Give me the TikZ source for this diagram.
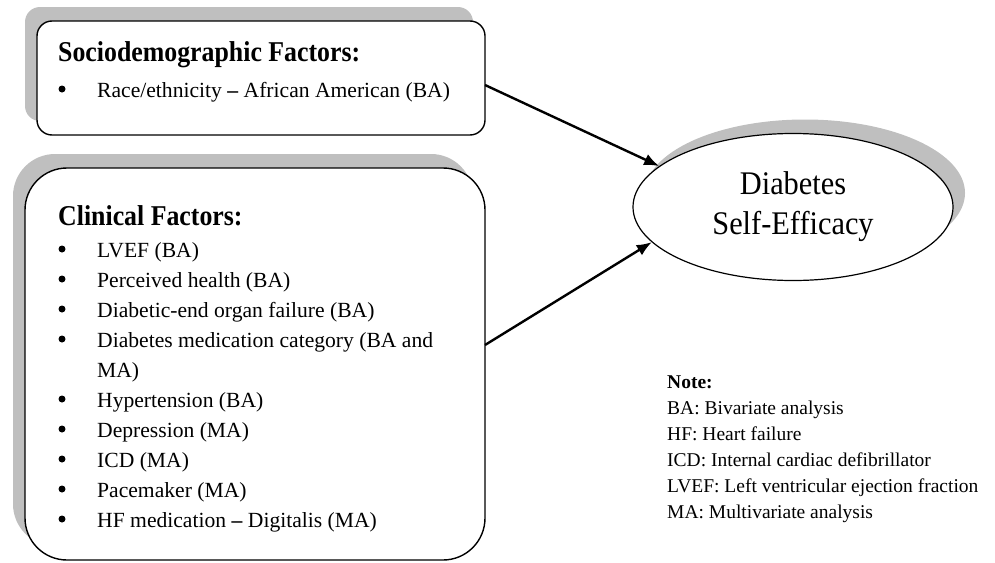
\documentclass[tikz,border=0pt]{standalone}
\usepackage{fontspec}
\setmainfont{Liberation Serif}
\newfontfamily\tallfont[FakeStretch=0.9]{Liberation Serif}
\newfontfamily\ovalfont[FakeStretch=0.92]{Liberation Serif}
\usetikzlibrary{arrows.meta,shadows,shapes.geometric}

\tikzset{
  factorbox/.style={draw, line width=1.4pt, fill=white, rounded corners=#1,
    inner sep=0pt, outer sep=0pt, anchor=north west,
    general shadow={fill=black!25, shadow xshift=-12pt, shadow yshift=14pt}},
  outcome/.style={draw, ellipse, line width=1.2pt, fill=white, inner sep=0pt,
    minimum width=320pt, minimum height=147pt, align=center,
    font=\ovalfont\fontsize{33}{40}\selectfont,
    general shadow={fill=black!25, shadow xshift=12pt, shadow yshift=14pt}},
  heading/.style={anchor=base west, inner sep=0pt, font=\tallfont\fontsize{28.7}{32}\selectfont\bfseries},
  item/.style={anchor=base west, inner sep=0pt, font=\fontsize{21.6}{30}\selectfont},
  dot/.style={circle, fill=black, inner sep=0pt, minimum size=7pt},
  arrow/.style={line width=2.4pt, -{Latex[length=15pt,width=12pt]}}
}

\begin{document}
\begin{tikzpicture}[x=1pt,y=-1pt]
  \useasboundingbox (0,0) rectangle (995,562);

  \node[factorbox=15pt, minimum width=448pt, minimum height=114pt] (socio) at (37,21) {};
  \node[factorbox=42pt, minimum width=460pt, minimum height=392pt] (clin) at (25,168) {};
  \node[outcome] (dse) at (793,207) {Diabetes\\Self-Efficacy};

  \node[heading] (socio-title) at (58,61) {Sociodemographic Factors:};
  \node[dot] (socio-dot) at (62,89) {};
  \node[item] (socio-race) at (97,97) {Race/ethnicity \textbf{--} African American (BA)};

  \node[heading] (clin-title) at (58,225) {Clinical Factors:};
  \foreach \y/\txt in {257/LVEF (BA), 287/Perceived health (BA),
      317/Diabetic-end organ failure (BA), 347/Diabetes medication category (BA and,
      407/Hypertension (BA), 437/Depression (MA), 467/ICD (MA), 497/Pacemaker (MA),
      527/HF medication \textbf{--} Digitalis (MA)} {
    \node[dot] (clin-dot-\y) at (62,\y-8) {};
    \node[item] (clin-item-\y) at (97,\y) {\txt};
  }
  \node[item] (clin-item-cont) at (97,377) {MA)};

  \node[anchor=north west, inner sep=0pt, align=left,
    font=\fontsize{19.5}{26}\selectfont] (note) at (667,376)
    {\textbf{Note:}\\BA: Bivariate analysis\\HF: Heart failure\\
     ICD: Internal cardiac defibrillator\\
     LVEF: Left ventricular ejection fraction\\MA: Multivariate analysis};

  \draw[arrow] ([yshift=-7pt]socio.east) -- (dse.163);
  \draw[arrow] ([yshift=19pt]clin.east) -- (dse.194);
\end{tikzpicture}
\end{document}
